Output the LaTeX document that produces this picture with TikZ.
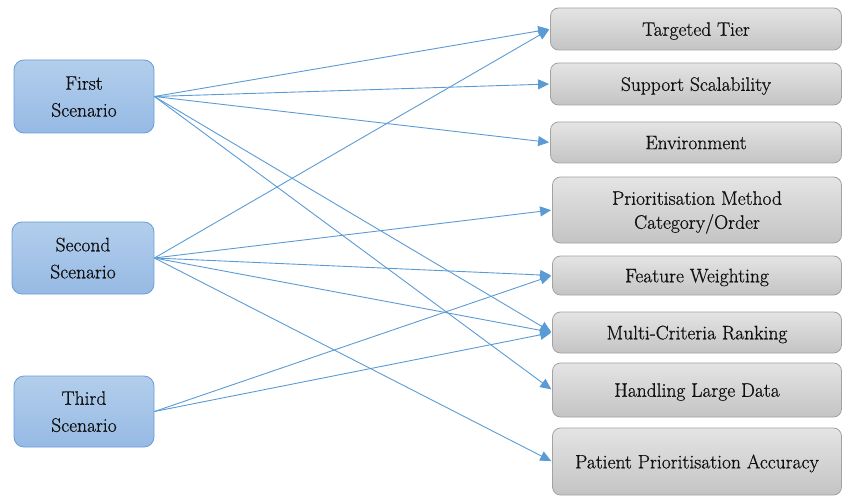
\documentclass[tikz,border=0pt]{standalone}
\usepackage{fontspec}
\newfontfamily\labelfont{Latin Modern Roman}[FakeBold=0.7]
\usetikzlibrary{arrows.meta}
\definecolor{scenTop}{HTML}{B3CEEC}
\definecolor{scenBot}{HTML}{96BAE4}
\definecolor{scenEdge}{HTML}{6A9DD8}
\definecolor{featTop}{HTML}{E4E4E4}
\definecolor{featBot}{HTML}{C4C4C4}
\definecolor{featEdge}{HTML}{A2A2A2}
\definecolor{link}{HTML}{5B9BD5}
\definecolor{ink}{HTML}{101010}
\tikzset{
  scenario/.style={draw=scenEdge, line width=0.8pt, rounded corners=10pt,
    top color=scenTop, bottom color=scenBot, align=center, text=ink,
    font=\labelfont\fontsize{19.5}{27}\selectfont, inner sep=0pt, text depth=0pt},
  feature/.style={draw=featEdge, line width=0.8pt, rounded corners=8pt,
    top color=featTop, bottom color=featBot, align=center, text=ink,
    font=\labelfont\fontsize{19.5}{24}\selectfont, inner sep=0pt, text depth=0pt},
  link/.style={draw=link, line width=0.9pt, -{Triangle[length=11pt,width=10pt]}, shorten >=1pt}
}
\begin{document}
\begin{tikzpicture}[x=1pt,y=-1pt]
\useasboundingbox (0,0) rectangle (843,497);

% scenarios
\node[scenario, minimum width=140pt, minimum height=73pt] (s1) at (84,96.5) {First\\Scenario};
\node[scenario, minimum width=142pt, minimum height=72pt] (s2) at (83,258) {Second\\Scenario};
\node[scenario, minimum width=140pt, minimum height=71pt] (s3) at (84,411.5) {Third\\Scenario};

% features
\node[feature, minimum width=291pt, minimum height=42pt] (tier) at (696,29) {Targeted Tier};
\node[feature, minimum width=291pt, minimum height=42pt] (scal) at (696,84) {Support Scalability};
\node[feature, minimum width=291pt, minimum height=41pt] (env)  at (696,142.5) {Environment};
\node[feature, minimum width=289pt, minimum height=66pt] (prio) at (697,210) {Prioritisation Method\\Category/Order};
\node[feature, minimum width=289pt, minimum height=39pt] (wgt)  at (697,275.5) {Feature Weighting};
\node[feature, minimum width=289pt, minimum height=41pt] (mcr)  at (697,332.5) {Multi-Criteria Ranking};
\node[feature, minimum width=289pt, minimum height=54pt] (big)  at (697,390) {Handling Large Data};
\node[feature, minimum width=289pt, minimum height=67pt] (acc)  at (697,461.5) {Patient Prioritisation Accuracy};

% connections
\draw[link] (s1.east) -- (tier.west);
\draw[link] (s1.east) -- (scal.west);
\draw[link] (s1.east) -- (env.west);
\draw[link] (s1.east) -- (mcr.west);
\draw[link] (s1.east) -- (big.west);

\draw[link] (s2.east) -- (tier.west);
\draw[link] (s2.east) -- (prio.west);
\draw[link] (s2.east) -- (wgt.west);
\draw[link] (s2.east) -- (mcr.west);
\draw[link] (s2.east) -- (acc.west);

\draw[link] (s3.east) -- (wgt.west);
\draw[link] (s3.east) -- (mcr.west);
\end{tikzpicture}
\end{document}
